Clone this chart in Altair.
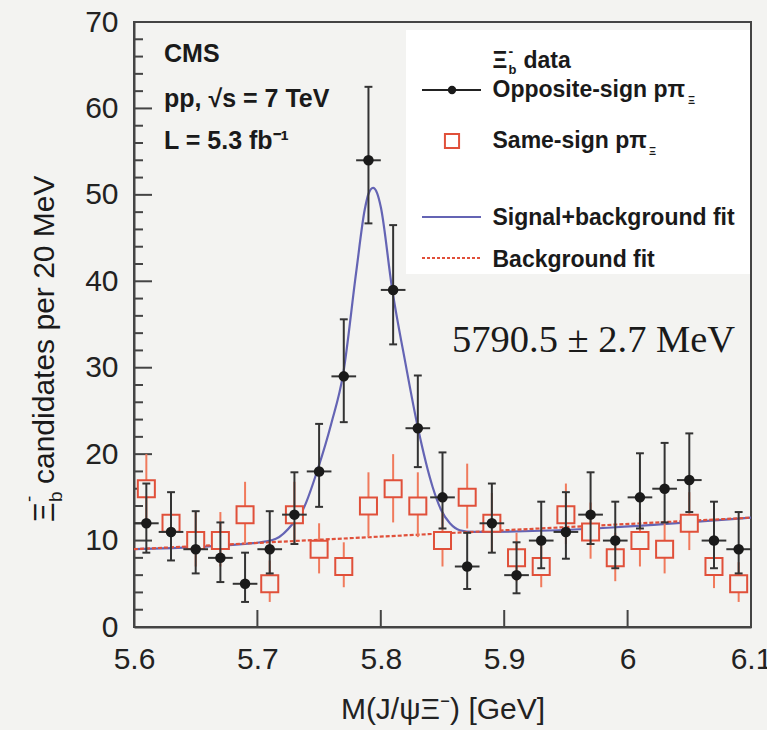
import altair as alt
import pandas as pd

# ---------------- data ----------------
bin_centers = [5.61, 5.63, 5.65, 5.67, 5.69, 5.71, 5.73, 5.75, 5.77, 5.79, 5.81, 5.83, 5.85,
               5.87, 5.89, 5.91, 5.93, 5.95, 5.97, 5.99, 6.01, 6.03, 6.05, 6.07, 6.09]
bin_half_width = 0.01

os_counts = [12, 11, 9, 8, 5, 9, 13, 18, 29, 54, 39, 23, 15, 7, 12, 6, 10, 11, 13, 10, 15, 16, 17, 10, 9]
os_err_top = [16.6, 15.6, 13.4, 12.1, 8.6, 13.4, 17.9, 23.5, 35.6, 62.5, 46.5, 29.1, 20.2, 10.9, 16.6,
              9.8, 14.5, 15.6, 17.9, 14.5, 20.1, 21.3, 22.4, 14.5, 13.3]
os_err_bottom = [8.6, 7.7, 6.2, 5.2, 2.9, 6.2, 9.6, 13.9, 23.7, 46.7, 32.7, 18.5, 11.4, 4.4, 8.6,
                 3.9, 6.8, 7.9, 9.6, 6.8, 11.4, 12.1, 13.3, 6.8, 6.2]

ss_counts = [16, 12, 10, 10, 13, 5, 13, 9, 7, 14, 16, 14, 10, 15, 12, 8, 7, 13, 11, 8, 10, 9, 12, 7, 5]
ss_err_top = [20.0, 15.5, 13.3, 13.3, 16.8, 7.7, 16.8, 12.0, 9.8, 17.9, 20.0, 17.9, 13.2, 18.9, 15.5,
              10.9, 9.8, 16.6, 14.4, 10.9, 13.2, 12.0, 15.6, 9.8, 7.5]
ss_err_bottom = [12.4, 8.6, 7.0, 7.0, 9.6, 2.9, 9.6, 6.2, 4.6, 10.4, 12.1, 10.4, 7.0, 11.4, 8.6,
                 5.3, 4.6, 9.6, 7.9, 5.3, 7.0, 6.2, 8.9, 4.5, 2.9]

fit_mass = [5.600, 5.700, 5.715, 5.729, 5.737, 5.749, 5.760, 5.7694, 5.780, 5.787, 5.790, 5.7937,
            5.797, 5.800, 5.809, 5.820, 5.830, 5.842, 5.849, 5.856, 5.864, 5.875, 6.100]
fit_counts = [9.0, 9.75, 10.2, 12.0, 13.6, 18.3, 23.6, 29.2, 41.0, 48.3, 50.1, 50.8,
              50.2, 48.6, 39.3, 30.5, 23.1, 16.2, 13.5, 12.0, 11.2, 11.0, 12.65]

bkg_mass = [5.6, 6.1]
bkg_counts = [9.0, 12.65]

x_tick_values = [5.6, 5.7, 5.8, 5.9, 6.0, 6.1]
y_tick_values = [0, 10, 20, 30, 40, 50, 60, 70]
y_minor_values = [2, 4, 6, 8, 12, 14, 16, 18, 22, 24, 26, 28, 32, 34, 36, 38, 42, 44, 46, 48,
                  52, 54, 56, 58, 62, 64, 66, 68]

# ---------------- tables ----------------
os_df = pd.DataFrame({"m": bin_centers, "n": os_counts, "hi": os_err_top, "lo": os_err_bottom})
os_df["ml"] = os_df["m"] - bin_half_width
os_df["mr"] = os_df["m"] + bin_half_width
os_df["cl"] = os_df["m"] - 0.0032
os_df["cr"] = os_df["m"] + 0.0032
ss_df = pd.DataFrame({"m": bin_centers, "n": ss_counts, "hi": ss_err_top, "lo": ss_err_bottom})
fit_df = pd.DataFrame({"m": fit_mass, "n": fit_counts})
bkg_df = pd.DataFrame({"m": bkg_mass, "n": bkg_counts})
xt_df = pd.DataFrame({"m": x_tick_values})
yt_df = pd.DataFrame({"n": y_tick_values[1:-1]})
ym_df = pd.DataFrame({"n": y_minor_values})
one = pd.DataFrame({"k": [0]})

BG = "#f3f3f1"
BLUE = "#6464b4"
RED = "#e0503a"
RED_BAR = "#f07a5c"
BLACK = "#1a1a1a"
FONT = "Liberation Sans"

xs = alt.Scale(domain=[5.6, 6.1], nice=False, zero=False)
ys = alt.Scale(domain=[0, 70], nice=False)
x_axis = alt.Axis(values=x_tick_values, format=".2~f", title="M(J/ψΞ⁻) [GeV]",
                  labelPadding=17, titlePadding=20, labelFlush=False)
y_axis = alt.Axis(values=y_tick_values, title=None, labelPadding=16, labelFlush=False)


def X(field="m"):
    return alt.X(field, type="quantitative", scale=xs, axis=x_axis)


def Y(field="n"):
    return alt.Y(field, type="quantitative", scale=ys, axis=y_axis)


layers = []

# legend background box
layers.append(alt.Chart(one).mark_rect(color="white").encode(
    x=alt.value(272), x2=alt.value(616), y=alt.value(8), y2=alt.value(252)))

# axis ticks (inside)
layers.append(alt.Chart(ym_df).mark_rule(color="#444", strokeWidth=2).encode(
    y=Y(), x=alt.value(0), x2=alt.value(9)))
layers.append(alt.Chart(yt_df).mark_rule(color="#444", strokeWidth=2).encode(
    y=Y(), x=alt.value(0), x2=alt.value(18)))
layers.append(alt.Chart(xt_df[1:-1]).mark_rule(color="#444", strokeWidth=2).encode(
    x=X(), y=alt.value(605), y2=alt.value(588)))

# fits
layers.append(alt.Chart(fit_df).mark_line(color=BLUE, strokeWidth=2.2, interpolate="monotone").encode(
    x=X(), y=Y()))
layers.append(alt.Chart(bkg_df).mark_line(color=RED, strokeWidth=2.2, strokeDash=[4, 2]).encode(
    x=X(), y=Y()))

# same-sign data
layers.append(alt.Chart(ss_df).mark_rule(color=RED_BAR, strokeWidth=2).encode(
    x=X(), y=Y("lo"), y2="hi"))
layers.append(alt.Chart(ss_df).mark_point(shape="square", size=290, fill=BG, fillOpacity=1,
                                          stroke=RED, strokeWidth=2, opacity=1).encode(
    x=X(), y=Y()))

# opposite-sign data
layers.append(alt.Chart(os_df).mark_rule(color="#333", strokeWidth=2).encode(
    x=X(), y=Y("lo"), y2="hi"))
layers.append(alt.Chart(os_df).mark_rule(color="#333", strokeWidth=2).encode(
    x=X("ml"), x2="mr", y=Y()))
layers.append(alt.Chart(os_df).mark_rule(color="#333", strokeWidth=2).encode(
    x=X("cl"), x2="cr", y=Y("hi")))
layers.append(alt.Chart(os_df).mark_rule(color="#333", strokeWidth=2).encode(
    x=X("cl"), x2="cr", y=Y("lo")))
layers.append(alt.Chart(os_df).mark_point(shape="circle", size=110, filled=True, color=BLACK,
                                          opacity=1).encode(x=X(), y=Y()))


def txt(s, x, y, size=23, bold=True, font=FONT, align="left", baseline="alphabetic", angle=0,
        color="#1a1a1a"):
    kw = dict(text=s, fontSize=size, font=font, align=align, baseline=baseline, color=color)
    if bold:
        kw["fontWeight"] = "bold"
    if angle:
        kw["angle"] = angle
    return alt.Chart(one).mark_text(**kw).encode(x=alt.value(x), y=alt.value(y))


# CMS inset
layers.append(txt("CMS", 30, 40, size=25))
layers.append(txt("pp,  √s = 7 TeV", 30, 85, size=25))
layers.append(txt("L = 5.3 fb⁻¹", 30, 127, size=25))

# legend
LX = 358.5
layers.append(txt("Ξ", LX, 46))
layers.append(txt("b", LX + 16, 52, size=13))
layers.append(txt("-", LX + 16, 34, size=14))
layers.append(txt("data", LX + 31, 46))

layers.append(alt.Chart(one).mark_rule(color="#222", strokeWidth=2).encode(
    x=alt.value(288), x2=alt.value(347), y=alt.value(68)))
layers.append(alt.Chart(one).mark_point(shape="circle", size=70, filled=True, color=BLACK, opacity=1).encode(
    x=alt.value(318), y=alt.value(68)))
layers.append(txt("Opposite-sign pπ", LX, 75))
layers.append(txt("Ξ", 554, 82, size=11))

layers.append(alt.Chart(one).mark_point(shape="square", size=200, fill="white", fillOpacity=1,
                                        stroke=RED, strokeWidth=2, opacity=1).encode(
    x=alt.value(318), y=alt.value(119)))
layers.append(txt("Same-sign pπ", LX, 126))
layers.append(txt("Ξ", 515, 133, size=11))

layers.append(alt.Chart(one).mark_rule(color=BLUE, strokeWidth=2.2).encode(
    x=alt.value(288), x2=alt.value(347), y=alt.value(195)))
layers.append(txt("Signal+background fit", LX, 203))
layers.append(alt.Chart(one).mark_rule(color=RED, strokeWidth=2, strokeDash=[3, 2]).encode(
    x=alt.value(288), x2=alt.value(347), y=alt.value(236)))
layers.append(txt("Background fit", LX, 245))

# mass annotation
layers.append(txt("5790.5 ± 2.7 MeV", 318, 330, size=38.5, bold=False, font="Liberation Serif"))

# y-axis title (rotated)
layers.append(txt("Ξ", -80, 500, size=30, bold=False, angle=270))
layers.append(txt("b", -72, 480, size=19, bold=False, angle=270))
layers.append(txt("-", -99, 480, size=19, bold=False, angle=270))
layers.append(txt("candidates per 20 MeV", -80, 462, size=30, bold=False, angle=270))

chart = alt.layer(*layers).properties(
    width=617, height=605,
    autosize="none",
    padding={"left": 134, "top": 22, "right": 16, "bottom": 103},
    background=BG,
).configure_view(
    stroke="#444", strokeWidth=2, fill=BG
).configure_axis(
    domainColor="#444", domainWidth=2, ticks=False, tickSize=0, grid=False,
    labelFont=FONT, labelFontSize=30, labelColor="#222",
    titleFont=FONT, titleFontSize=30, titleColor="#222", titleFontWeight="normal",
)

chart.save("out.html", embed_options={"renderer": "svg", "actions": False})
